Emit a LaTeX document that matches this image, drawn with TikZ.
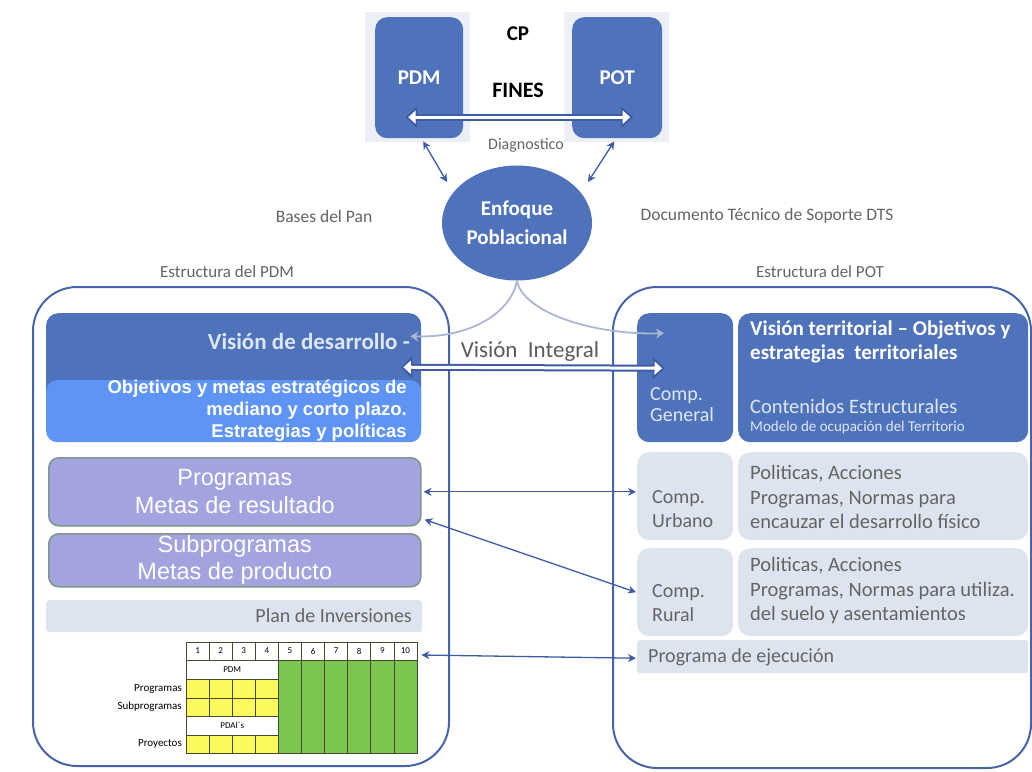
\documentclass[tikz,border=0pt]{standalone}
\usepackage{fontspec}
\setmainfont{Carlito}
\newfontfamily\arialf{Liberation Sans}
\usetikzlibrary{arrows.meta,shapes.geometric}

\definecolor{dkblue}{RGB}{79,115,186}
\definecolor{frameblue}{RGB}{72,100,168}
\definecolor{arrowblue}{RGB}{62,92,165}
\definecolor{brightblue}{RGB}{94,148,246}
\definecolor{lavender}{RGB}{163,163,223}
\definecolor{lavborder}{RGB}{128,152,140}
\definecolor{pale}{RGB}{222,228,239}
\definecolor{palebg}{RGB}{236,239,246}
\definecolor{curveblue}{RGB}{170,182,212}
\definecolor{graytext}{RGB}{100,100,100}
\definecolor{lighttext}{RGB}{222,231,247}
\definecolor{cellyellow}{RGB}{250,250,92}
\definecolor{cellgreen}{RGB}{122,198,78}
\definecolor{gridline}{RGB}{72,72,48}

\newcommand{\fs}[2]{\fontsize{#1}{#2}\selectfont}
% white-bodied double arrow with a blue outline
\newcommand{\hollowarrow}[2]{%
  \draw[arrowblue, line width=7, {Triangle[length=12,width=21]}-{Triangle[length=12,width=21]}] #1 -- #2;
  \draw[white, line width=3, shorten <=3, shorten >=3, {Triangle[length=7.5,width=13]}-{Triangle[length=7.5,width=13]}] #1 -- #2;
}

\begin{document}
\begin{tikzpicture}[x=1pt,y=-1pt,
  darkbox/.style={fill=dkblue, rounded corners=12, inner sep=0, anchor=north west},
  palebox/.style={fill=pale, rounded corners=12, inner sep=0, anchor=north west},
  bigframe/.style={draw=frameblue, line width=2, rounded corners=44, inner sep=0, anchor=north west},
  lavbox/.style={fill=lavender, draw=lavborder, line width=1.6, rounded corners=10, inner sep=0,
    anchor=north west, text=white, align=center, font=\arialf\fs{23.5}{28}},
  graylbl/.style={text=graytext, inner sep=0},
  thinarr/.style={draw=arrowblue, line width=1.3, {Stealth[length=8,width=8]}-{Stealth[length=8,width=8]}},
  curvearr/.style={draw=curveblue, line width=1.8, -{Stealth[length=8,width=10]}},
  cell/.style={inner sep=0, font=\fs{9}{10}},
  rowlbl/.style={inner sep=0, font=\fs{11}{12}, anchor=east}
]
\useasboundingbox (0,0) rectangle (1032,771);

% ---- top: PDM, POT and the Enfoque Poblacional ellipse
\node[fill=palebg, minimum width=105, minimum height=130, inner sep=0, anchor=north west] (pdmbg) at (365,12) {};
\node[fill=palebg, minimum width=105, minimum height=130, inner sep=0, anchor=north west] (potbg) at (564,12) {};
\node[darkbox, minimum width=88, minimum height=121, text=white, font=\fs{21}{24}\bfseries] (pdm) at (375,17) {PDM};
\node[darkbox, minimum width=90, minimum height=121, text=white, font=\fs{21}{24}\bfseries] (pot) at (572,17) {POT};
\node[inner sep=0, font=\fs{21}{24}\bfseries] (cp) at (518,34) {CP};
\node[inner sep=0, font=\fs{22}{24}\bfseries] (fines) at (518,90) {FINES};
\node[graylbl, font=\fs{16}{18}] (diag) at (526,145) {Diagnostico};

\node[ellipse, fill=dkblue, minimum width=150, minimum height=115, inner sep=0, text=white,
  align=center, font=\fs{21}{29}\bfseries] (ell) at (517,223) {Enfoque\\Poblacional};
\node[graylbl, font=\fs{17.5}{20}] (bases) at (324,216) {Bases del Pan};
\node[graylbl, font=\fs{17.5}{20}] (dts) at (767,216) {Documento Técnico de Soporte DTS};

\hollowarrow{([xshift=-14,yshift=-39.5]pdm.center)}{([xshift=16,yshift=-39.5]pot.center)}
\draw[thinarr] ([xshift=4,yshift=-3]pdm.south) -- ([xshift=-70,yshift=41]ell.center);
\draw[thinarr] ([xshift=-3,yshift=-3]pot.south) -- ([xshift=71,yshift=41]ell.center);

% ---- the two structure frames
\node[graylbl, font=\fs{17}{19}] (epdm) at (227,272) {Estructura del PDM};
\node[graylbl, font=\fs{17}{19}] (epot) at (820,272) {Estructura del POT};
\node[bigframe, minimum width=416, minimum height=479] (fpdm) at (32,286) {};
\node[bigframe, minimum width=418, minimum height=481] (fpot) at (612,286) {};

% ---- PDM structure
\node[darkbox, minimum width=375, minimum height=126] (vis) at (46,313) {};
\node[anchor=east, inner sep=0, text=lighttext, font=\fs{23}{26}\bfseries] (vistxt) at (410,342) {Visión de desarrollo -};
\node[fill=brightblue, rounded corners=11, inner sep=0, anchor=north west, minimum width=375, minimum height=62] (obj) at (46,380) {};
\node[anchor=north east, align=right, inner sep=0, text=white, font=\arialf\fs{18.5}{22}\bfseries] (objtxt) at (407,380)
  {Objetivos y metas estratégicos de\\mediano y corto plazo.\\Estrategias y políticas};

\node[lavbox, minimum width=372, minimum height=68] (prog) at (48,457) {Programas\\Metas de resultado};
\node[lavbox, minimum width=372, minimum height=53, font=\arialf\fs{23.5}{27}] (subp) at (48,533) {Subprogramas\\Metas de producto};
\node[fill=pale, rounded corners=3, inner sep=0, anchor=north west, minimum width=376, minimum height=32] (plan) at (46,600) {};
\node[anchor=east, graylbl, font=\fs{20}{22}] (plantxt) at (412,616) {Plan de Inversiones};

% ---- investment table
\node[inner sep=0, anchor=north west, minimum width=231, minimum height=111] (tbl) at (186,642) {};
\fill[cellgreen] (278.4,660) rectangle (417,753);
\fill[cellyellow] (186,679) rectangle (278.4,716);
\fill[cellyellow] (186,735) rectangle (278.4,753);
\begin{scope}[draw=gridline, line width=0.8]
  \draw (186,642) rectangle (417,753);
  \draw (186,660) -- (417,660);
  \foreach \yy in {679,698,716,735} \draw (186,\yy) -- (278.4,\yy);
  \foreach \i in {1,...,9} \draw ({186+\i*23.1},642) -- ({186+\i*23.1},660);
  \foreach \i in {4,...,9} \draw ({186+\i*23.1},660) -- ({186+\i*23.1},753);
  \foreach \i in {1,2,3} {
    \draw ({186+\i*23.1},679) -- ({186+\i*23.1},716);
    \draw ({186+\i*23.1},735) -- ({186+\i*23.1},753);
  }
\end{scope}
\foreach \i in {1,...,10} \node[cell] (h\i) at ({186+(\i-0.5)*23.1},651) {\i};
\node[cell] (tpdm) at (232.2,669.5) {PDM};
\node[cell] (tpdai) at (232.2,725.5) {PDAI´s};
\node[rowlbl] (tprog) at (182,688.5) {Programas};
\node[rowlbl] (tsub) at (182,707) {Subprogramas};
\node[rowlbl] (tproy) at (182,744) {Proyectos};

% ---- POT structure
\node[darkbox, minimum width=96, minimum height=129] (cg) at (637,313) {};
\node[anchor=west, align=left, inner sep=0, text=lighttext, font=\fs{20}{21}] (cgtxt) at (650,405) {Comp.\\General};
\node[darkbox, minimum width=290, minimum height=129] (vt) at (738,313) {};
\node[anchor=north west, align=left, inner sep=0, text=white, font=\fs{21}{24}\bfseries] (vttxt) at (750,321)
  {Visión territorial – Objetivos y\\estrategias\ \ territoriales};
\node[anchor=west, inner sep=0, text=lighttext, font=\fs{20.5}{22}] (cont) at (750,406) {Contenidos Estructurales};
\node[anchor=west, inner sep=0, text=lighttext, font=\fs{15}{16}] (modelo) at (750,427) {Modelo de ocupación del Territorio};

\node[palebox, minimum width=96, minimum height=88] (urb) at (637,452) {};
\node[palebox, minimum width=290, minimum height=88] (urbt) at (738,452) {};
\node[anchor=west, align=left, graylbl, font=\fs{20}{24}] (urbtxt) at (652,509) {Comp.\\Urbano};
\node[anchor=west, align=left, graylbl, font=\fs{20.5}{24.5}] (urbdesc) at (750,497)
  {Politicas, Acciones\\Programas, Normas para\\encauzar el desarrollo físico};

\node[palebox, minimum width=96, minimum height=88] (rur) at (637,548) {};
\node[palebox, minimum width=290, minimum height=88] (rurt) at (738,548) {};
\node[anchor=west, align=left, graylbl, font=\fs{20}{24}] (rurtxt) at (652,603) {Comp.\\Rural};
\node[anchor=west, align=left, graylbl, font=\fs{20.5}{24.5}] (rurdesc) at (750,591)
  {Politicas, Acciones\\Programas, Normas para utiliza.\\del suelo y asentamientos};

\node[fill=pale, rounded corners=3, inner sep=0, anchor=north west, minimum width=391, minimum height=33] (eje) at (637,640) {};
\node[anchor=west, graylbl, font=\fs{20}{22}] (ejetxt) at (648,657) {Programa de ejecución};

% ---- links between the two structures
\draw[curvearr] (ell.south) .. controls +(-6,32) and +(60,2) .. ([xshift=-11,yshift=40]vis.east);
\draw[curvearr] (ell.south) .. controls +(6,32) and +(-70,2) .. ([xshift=27,yshift=44.5]cg.west);
\node[inner sep=0, text=graytext!90!black, font=\fs{23}{25}] (vint) at (530,351) {Visión\ \ Integral};
\hollowarrow{([xshift=-21,yshift=9]vis.east)}{([xshift=28,yshift=9.5]cg.west)}

\draw[thinarr] ([xshift=2]prog.east) -- ([xshift=-1]prog.east -| urb.west);
\draw[thinarr] ([xshift=3,yshift=7]prog.south east) -- ([xshift=-1]rur.west);
\draw[thinarr] ([xshift=4,yshift=-13]tbl.north east) -- ([xshift=-1,yshift=-1.5]eje.west);
\end{tikzpicture}
\end{document}
